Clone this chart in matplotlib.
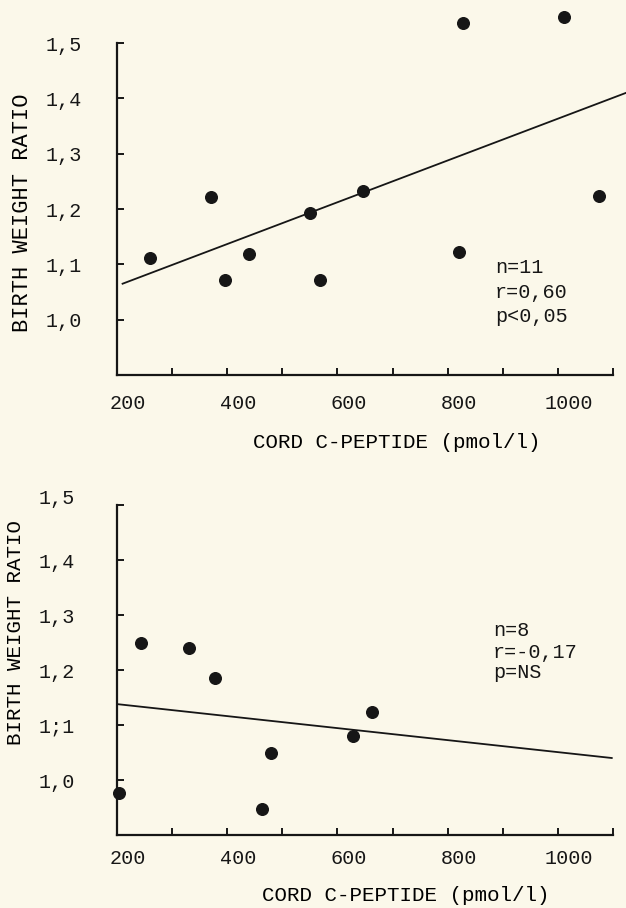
import matplotlib
matplotlib.use("Agg")
import matplotlib.pyplot as plt
from matplotlib.transforms import ScaledTranslation

# ==========================================================
# Data
# ==========================================================

top_cpep = [260, 371, 396, 440, 550, 568, 646, 821, 828, 1011, 1075]
top_ratio = [1.111, 1.222, 1.072, 1.119, 1.193, 1.072, 1.233, 1.122, 1.537, 1.547, 1.224]
top_fit_x = [210, 1124]
top_fit_y = [1.065, 1.410]
top_stats = ["n=11", "r=0,60", "p<0,05"]

bottom_cpep = [204, 244, 331, 378, 463, 479, 628, 663]
bottom_ratio = [0.976, 1.249, 1.240, 1.185, 0.947, 1.049, 1.080, 1.124]
bottom_fit_x = [200, 1098]
bottom_fit_y = [1.138, 1.040]
bottom_stats = ["n=8", "r=-0,17", "p=NS"]

x_ticks = [200, 300, 400, 500, 600, 700, 800, 900, 1000, 1100]
x_labels = ["200", "", "400", "", "600", "", "800", "", "1000", ""]
y_ticks = [1.0, 1.1, 1.2, 1.3, 1.4, 1.5]
top_ylabels = ["1,0", "1,1", "1,2", "1,3", "1,4", "1,5"]
bottom_ylabels = ["1,0", "1;1", "1,2", "1,3", "1,4", "1,5"]

# ==========================================================
# Style
# ==========================================================

PAPER = "#fbf8ea"
INK = "#161616"
FONT = "Liberation Mono"

plt.rcParams["font.family"] = [FONT, "DejaVu Sans Mono"]
plt.rcParams["font.size"] = 14.5
plt.rcParams["text.color"] = INK

fig = plt.figure(figsize=(6.26, 9.08), dpi=100, facecolor=PAPER)

ax_top = fig.add_axes([0.187, 0.587, 0.792, 0.3656])
ax_bot = fig.add_axes([0.187, 0.0804, 0.792, 0.3634])


def style_panel(ax, ylabels, ypad, xpad):
    ax.set_facecolor(PAPER)
    ax.set_xlim(200, 1100)
    ax.set_ylim(0.9, 1.5)
    for side in ["top", "right"]:
        ax.spines[side].set_visible(False)
    for side in ["left", "bottom"]:
        ax.spines[side].set_linewidth(1.6)
        ax.spines[side].set_color(INK)
    ax.set_xticks(x_ticks)
    ax.set_xticklabels(x_labels)
    ax.set_yticks(y_ticks)
    ax.set_yticklabels(ylabels)
    ax.tick_params(axis="both", direction="in", length=5, width=1.4,
                   colors=INK, labelsize=14.5)
    ax.tick_params(axis="y", pad=ypad)
    ax.tick_params(axis="x", pad=xpad)
    # typed labels sit a little right of their ticks
    shift = ScaledTranslation(0.11, 0, fig.dpi_scale_trans)
    for lab in ax.get_xticklabels():
        lab.set_transform(lab.get_transform() + shift)


style_panel(ax_top, top_ylabels, 25, 14)
style_panel(ax_bot, bottom_ylabels, 30, 10)

# top "1,5" of the lower panel is typed above its tick
up = ScaledTranslation(0, 0.09, fig.dpi_scale_trans)
lab15 = ax_bot.get_yticklabels()[-1]
lab15.set_transform(lab15.get_transform() + up)

# ==========================================================
# Top panel
# ==========================================================

ax_top.scatter(top_cpep, top_ratio, s=70, color=INK, clip_on=False, zorder=3)
ax_top.plot(top_fit_x, top_fit_y, color=INK, linewidth=1.3, clip_on=False)

for i, txt in enumerate(top_stats):
    ax_top.text(0.762, 0.325 - i * 0.075, txt, transform=ax_top.transAxes,
                ha="left", va="center", fontsize=14.5)

ax_top.set_ylabel("BIRTH WEIGHT RATIO", fontsize=15.8)
ax_top.yaxis.label.set_va("center")
ax_top.yaxis.set_label_coords(-0.19, 0.49)
ax_top.set_xlabel("CORD C-PEPTIDE (pmol/l)", fontsize=15)
ax_top.xaxis.label.set_va("center")
ax_top.xaxis.set_label_coords(0.565, -0.202)

# ==========================================================
# Bottom panel
# ==========================================================

ax_bot.scatter(bottom_cpep, bottom_ratio, s=70, color=INK, clip_on=False, zorder=3)
ax_bot.plot(bottom_fit_x, bottom_fit_y, color=INK, linewidth=1.3, clip_on=False)

bottom_rows = [0.621, 0.552, 0.491]
for txt, yy in zip(bottom_stats, bottom_rows):
    ax_bot.text(0.758, yy, txt, transform=ax_bot.transAxes,
                ha="left", va="center", fontsize=14.5)

ax_bot.set_ylabel("BIRTH WEIGHT RATIO", fontsize=15)
ax_bot.yaxis.label.set_va("center")
ax_bot.yaxis.set_label_coords(-0.205, 0.615)
ax_bot.set_xlabel("CORD C-PEPTIDE (pmol/l)", fontsize=15)
ax_bot.xaxis.label.set_va("center")
ax_bot.xaxis.set_label_coords(0.583, -0.182)

fig.savefig("out.png", dpi=100, facecolor=PAPER)
plt.close(fig)
